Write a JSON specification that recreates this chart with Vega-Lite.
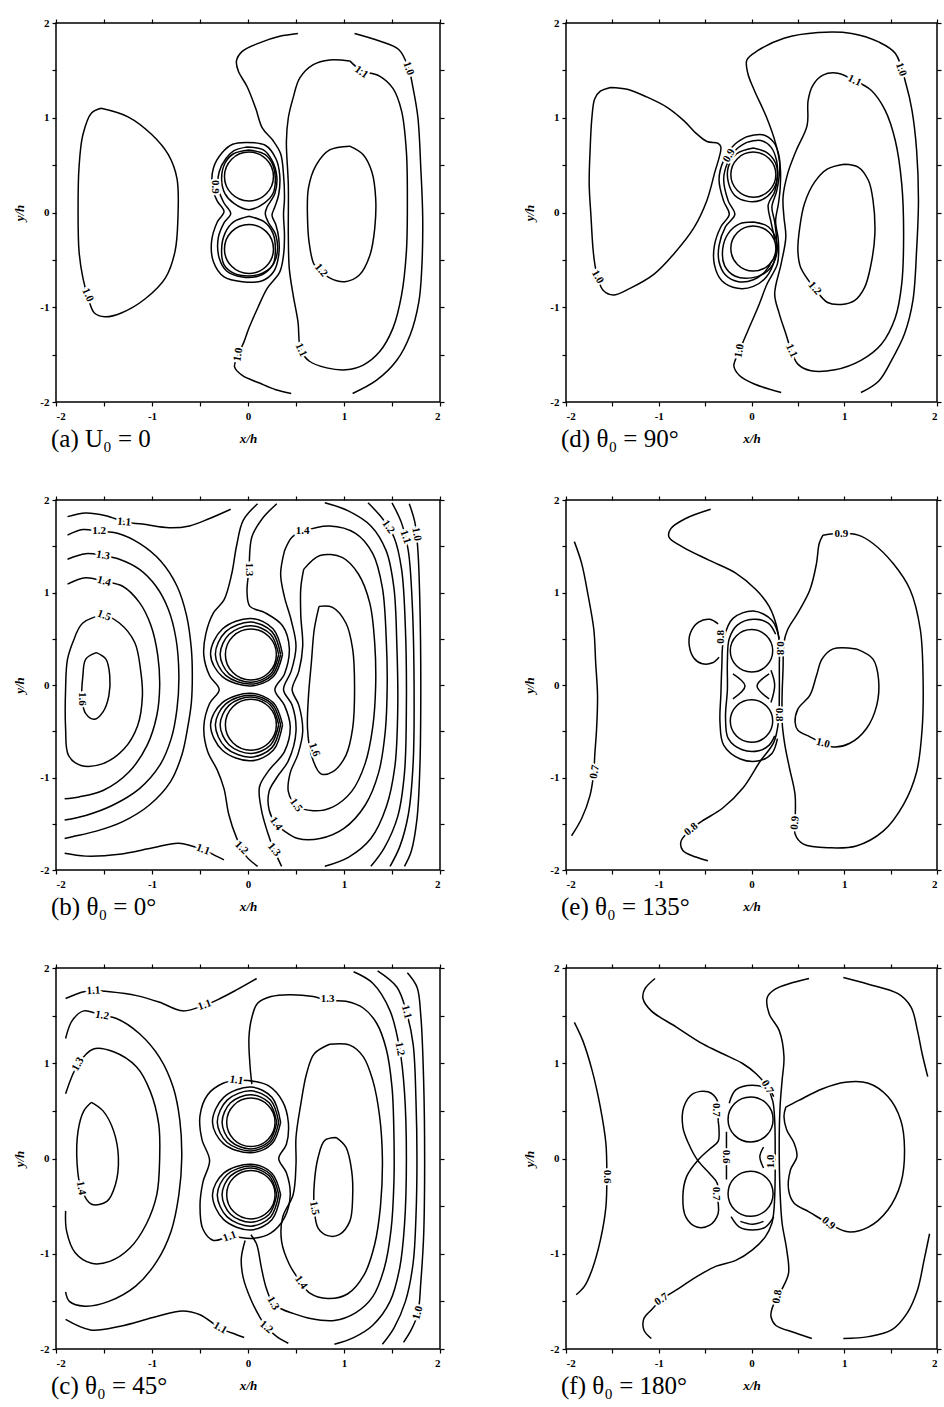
{
"$schema": "https://vega.github.io/schema/vega-lite/v6.json",
"background": "white",
"padding": {"left": 13, "top": 16, "right": 0, "bottom": 0},
"columns": 2,
"spacing": {"row": 98, "column": 126},
"bounds": "flush",
"align": "each",
"config": {
  "view": {"stroke": "black", "strokeWidth": 1.5},
  "axis": {"domain": false, "grid": false, "tickColor": "black", "tickSize": 4, "tickWidth": 1.2,
           "labelFont": "Liberation Serif", "labelFontSize": 11, "labelFontWeight": "bold", "labelColor": "black", "labelPadding": 4,
           "titleFont": "Liberation Serif", "titleFontSize": 13, "titleFontStyle": "italic", "titleFontWeight": "bold", "titleColor": "black"},
  "axisX": {"titlePadding": 11},
  "axisY": {"titlePadding": 13, "labelAngle": 0, "labelPadding": 3},
  "title": {"orient": "bottom", "anchor": "start", "frame": "group", "font": "Liberation Serif", "fontSize": 25, "fontWeight": "normal", "color": "black", "offset": -18, "dx": -5}
},
"datasets": {
"cyl": [
 {"p":"a","x":0.01,"y":0.38},{"p":"a","x":0.01,"y":-0.385},
 {"p":"b","x":0.03,"y":0.33},{"p":"b","x":0.03,"y":-0.43},
 {"p":"c","x":0.03,"y":0.38},{"p":"c","x":0.03,"y":-0.38},
 {"p":"d","x":0.02,"y":0.40},{"p":"d","x":0.02,"y":-0.38},
 {"p":"e","x":0.0,"y":0.37},{"p":"e","x":0.0,"y":-0.39},
 {"p":"f","x":-0.01,"y":0.41},{"p":"f","x":-0.01,"y":-0.37}
],
"a": [
 {"g":"a1","x":-1.53,"y":1.10},{"g":"a1","x":-1.63,"y":1.05},{"g":"a1","x":-1.72,"y":0.82},{"g":"a1","x":-1.76,"y":0.48},{"g":"a1","x":-1.77,"y":0.01},{"g":"a1","x":-1.76,"y":-0.41},{"g":"a1","x":-1.72,"y":-0.69},{"g":"a1","x":-1.66,"y":-0.92},{"g":"a1","x":-1.60,"y":-1.06},{"g":"a1","x":-1.49,"y":-1.10},{"g":"a1","x":-1.32,"y":-1.06},{"g":"a1","x":-1.07,"y":-0.91},{"g":"a1","x":-0.86,"y":-0.69},{"g":"a1","x":-0.76,"y":-0.41},{"g":"a1","x":-0.73,"y":-0.06},{"g":"a1","x":-0.74,"y":0.36},{"g":"a1","x":-0.83,"y":0.61},{"g":"a1","x":-1.00,"y":0.82},{"g":"a1","x":-1.25,"y":1.01},{"g":"a1","x":-1.53,"y":1.10},
 {"g":"a2","x":0.52,"y":1.89},{"g":"a2","x":0.33,"y":1.86},{"g":"a2","x":0.12,"y":1.79},{"g":"a2","x":-0.06,"y":1.70},{"g":"a2","x":-0.12,"y":1.60},{"g":"a2","x":-0.10,"y":1.49},{"g":"a2","x":-0.01,"y":1.33},{"g":"a2","x":0.08,"y":1.10},{"g":"a2","x":0.15,"y":0.89},{"g":"a2","x":0.26,"y":0.76},{"g":"a2","x":0.34,"y":0.62},{"g":"a2","x":0.37,"y":0.40},{"g":"a2","x":0.38,"y":0.15},{"g":"a2","x":0.37,"y":-0.02},{"g":"a2","x":0.38,"y":-0.24},{"g":"a2","x":0.37,"y":-0.45},{"g":"a2","x":0.33,"y":-0.63},{"g":"a2","x":0.20,"y":-0.80},{"g":"a2","x":0.10,"y":-1.01},{"g":"a2","x":0.01,"y":-1.22},{"g":"a2","x":-0.04,"y":-1.36},{"g":"a2","x":-0.10,"y":-1.50},{"g":"a2","x":-0.14,"y":-1.63},{"g":"a2","x":-0.06,"y":-1.72},{"g":"a2","x":0.12,"y":-1.80},{"g":"a2","x":0.29,"y":-1.87},{"g":"a2","x":0.45,"y":-1.91},
 {"g":"a3","x":1.11,"y":1.89},{"g":"a3","x":1.37,"y":1.81},{"g":"a3","x":1.57,"y":1.72},{"g":"a3","x":1.67,"y":1.53},{"g":"a3","x":1.72,"y":1.31},{"g":"a3","x":1.77,"y":1.00},{"g":"a3","x":1.80,"y":0.47},{"g":"a3","x":1.82,"y":-0.06},{"g":"a3","x":1.81,"y":-0.59},{"g":"a3","x":1.78,"y":-0.94},{"g":"a3","x":1.69,"y":-1.29},{"g":"a3","x":1.55,"y":-1.56},{"g":"a3","x":1.34,"y":-1.77},{"g":"a3","x":1.09,"y":-1.91},
 {"g":"a4","x":1.06,"y":1.60},{"g":"a4","x":0.85,"y":1.61},{"g":"a4","x":0.68,"y":1.56},{"g":"a4","x":0.54,"y":1.42},{"g":"a4","x":0.47,"y":1.21},{"g":"a4","x":0.42,"y":1.00},{"g":"a4","x":0.40,"y":0.75},{"g":"a4","x":0.42,"y":0.29},{"g":"a4","x":0.42,"y":-0.24},{"g":"a4","x":0.43,"y":-0.59},{"g":"a4","x":0.47,"y":-0.87},{"g":"a4","x":0.52,"y":-1.15},{"g":"a4","x":0.55,"y":-1.45},{"g":"a4","x":0.64,"y":-1.57},{"g":"a4","x":0.82,"y":-1.64},{"g":"a4","x":1.02,"y":-1.66},{"g":"a4","x":1.20,"y":-1.61},{"g":"a4","x":1.37,"y":-1.47},{"g":"a4","x":1.51,"y":-1.22},{"g":"a4","x":1.60,"y":-0.87},{"g":"a4","x":1.65,"y":-0.41},{"g":"a4","x":1.66,"y":0.12},{"g":"a4","x":1.65,"y":0.64},{"g":"a4","x":1.60,"y":1.07},{"g":"a4","x":1.51,"y":1.31},{"g":"a4","x":1.37,"y":1.44},{"g":"a4","x":1.18,"y":1.50},{"g":"a4","x":1.06,"y":1.60},
 {"g":"a5","x":1.06,"y":0.70},{"g":"a5","x":0.85,"y":0.66},{"g":"a5","x":0.71,"y":0.50},{"g":"a5","x":0.63,"y":0.26},{"g":"a5","x":0.62,"y":-0.06},{"g":"a5","x":0.64,"y":-0.34},{"g":"a5","x":0.69,"y":-0.55},{"g":"a5","x":0.76,"y":-0.61},{"g":"a5","x":0.85,"y":-0.69},{"g":"a5","x":1.01,"y":-0.73},{"g":"a5","x":1.16,"y":-0.66},{"g":"a5","x":1.27,"y":-0.45},{"g":"a5","x":1.32,"y":-0.17},{"g":"a5","x":1.33,"y":0.15},{"g":"a5","x":1.29,"y":0.43},{"g":"a5","x":1.20,"y":0.61},{"g":"a5","x":1.06,"y":0.70},
 {"g":"ao","x":-0.02,"y":0.74},{"g":"ao","x":0.18,"y":0.71},{"g":"ao","x":0.29,"y":0.57},{"g":"ao","x":0.33,"y":0.40},{"g":"ao","x":0.32,"y":0.19},{"g":"ao","x":0.28,"y":0.06},{"g":"ao","x":0.25,"y":-0.03},{"g":"ao","x":0.29,"y":-0.13},{"g":"ao","x":0.32,"y":-0.27},{"g":"ao","x":0.32,"y":-0.45},{"g":"ao","x":0.27,"y":-0.62},{"g":"ao","x":0.15,"y":-0.72},{"g":"ao","x":-0.06,"y":-0.73},{"g":"ao","x":-0.25,"y":-0.68},{"g":"ao","x":-0.36,"y":-0.52},{"g":"ao","x":-0.38,"y":-0.31},{"g":"ao","x":-0.32,"y":-0.10},{"g":"ao","x":-0.25,"y":0.01},{"g":"ao","x":-0.32,"y":0.12},{"g":"ao","x":-0.37,"y":0.26},{"g":"ao","x":-0.36,"y":0.47},{"g":"ao","x":-0.27,"y":0.63},{"g":"ao","x":-0.16,"y":0.72},{"g":"ao","x":-0.02,"y":0.74},
 {"g":"am","x":-0.02,"y":0.69},{"g":"am","x":0.16,"y":0.66},{"g":"am","x":0.25,"y":0.55},{"g":"am","x":0.30,"y":0.38},{"g":"am","x":0.28,"y":0.20},{"g":"am","x":0.20,"y":0.06},{"g":"am","x":0.18,"y":-0.01},{"g":"am","x":0.21,"y":-0.10},{"g":"am","x":0.29,"y":-0.24},{"g":"am","x":0.30,"y":-0.45},{"g":"am","x":0.23,"y":-0.59},{"g":"am","x":0.11,"y":-0.67},{"g":"am","x":-0.06,"y":-0.68},{"g":"am","x":-0.22,"y":-0.62},{"g":"am","x":-0.30,"y":-0.48},{"g":"am","x":-0.31,"y":-0.27},{"g":"am","x":-0.25,"y":-0.11},{"g":"am","x":-0.18,"y":-0.01},{"g":"am","x":-0.25,"y":0.10},{"g":"am","x":-0.31,"y":0.26},{"g":"am","x":-0.30,"y":0.43},{"g":"am","x":-0.23,"y":0.57},{"g":"am","x":-0.15,"y":0.65},{"g":"am","x":-0.02,"y":0.69},
 {"g":"ai1","x":0.01,"y":0.66},{"g":"ai1","x":0.18,"y":0.61},{"g":"ai1","x":0.26,"y":0.50},{"g":"ai1","x":0.285,"y":0.36},{"g":"ai1","x":0.26,"y":0.20},{"g":"ai1","x":0.17,"y":0.10},{"g":"ai1","x":0.01,"y":0.03},{"g":"ai1","x":-0.15,"y":0.10},{"g":"ai1","x":-0.24,"y":0.20},{"g":"ai1","x":-0.275,"y":0.36},{"g":"ai1","x":-0.24,"y":0.52},{"g":"ai1","x":-0.15,"y":0.62},{"g":"ai1","x":0.01,"y":0.66},
 {"g":"ai2","x":0.01,"y":-0.04},{"g":"ai2","x":0.17,"y":-0.10},{"g":"ai2","x":0.26,"y":-0.22},{"g":"ai2","x":0.285,"y":-0.39},{"g":"ai2","x":0.26,"y":-0.55},{"g":"ai2","x":0.15,"y":-0.64},{"g":"ai2","x":0.01,"y":-0.67},{"g":"ai2","x":-0.15,"y":-0.64},{"g":"ai2","x":-0.25,"y":-0.55},{"g":"ai2","x":-0.275,"y":-0.39},{"g":"ai2","x":-0.24,"y":-0.22},{"g":"ai2","x":-0.15,"y":-0.10},{"g":"ai2","x":0.01,"y":-0.04}
],
"la": [
 {"x":-1.67,"y":-0.87,"t":"1.0","a":65},{"x":-0.10,"y":-1.50,"t":"1.0","a":-80},{"x":1.18,"y":1.48,"t":"1.1","a":35},{"x":1.67,"y":1.52,"t":"1.0","a":70},{"x":0.55,"y":-1.45,"t":"1.1","a":65},{"x":0.76,"y":-0.61,"t":"1.2","a":50},{"x":-0.34,"y":0.27,"t":"0.9","a":90}
],
"d": [
 {"g":"d1","x":-1.52,"y":1.32},{"g":"d1","x":-1.63,"y":1.28},{"g":"d1","x":-1.69,"y":1.20},{"g":"d1","x":-1.72,"y":1.01},{"g":"d1","x":-1.74,"y":0.66},{"g":"d1","x":-1.75,"y":0.30},{"g":"d1","x":-1.73,"y":-0.05},{"g":"d1","x":-1.71,"y":-0.37},{"g":"d1","x":-1.69,"y":-0.54},{"g":"d1","x":-1.66,"y":-0.68},{"g":"d1","x":-1.60,"y":-0.82},{"g":"d1","x":-1.49,"y":-0.87},{"g":"d1","x":-1.31,"y":-0.80},{"g":"d1","x":-1.05,"y":-0.65},{"g":"d1","x":-0.84,"y":-0.44},{"g":"d1","x":-0.62,"y":-0.16},{"g":"d1","x":-0.48,"y":0.13},{"g":"d1","x":-0.40,"y":0.41},{"g":"d1","x":-0.33,"y":0.69},{"g":"d1","x":-0.36,"y":0.73},{"g":"d1","x":-0.48,"y":0.75},{"g":"d1","x":-0.59,"y":0.83},{"g":"d1","x":-0.73,"y":0.97},{"g":"d1","x":-0.91,"y":1.11},{"g":"d1","x":-1.13,"y":1.22},{"g":"d1","x":-1.34,"y":1.30},{"g":"d1","x":-1.52,"y":1.32},
 {"g":"d2","x":1.18,"y":-1.90},{"g":"d2","x":1.37,"y":-1.78},{"g":"d2","x":1.51,"y":-1.56},{"g":"d2","x":1.65,"y":-1.28},{"g":"d2","x":1.74,"y":-0.93},{"g":"d2","x":1.78,"y":-0.40},{"g":"d2","x":1.80,"y":0.13},{"g":"d2","x":1.78,"y":0.66},{"g":"d2","x":1.73,"y":1.08},{"g":"d2","x":1.67,"y":1.34},{"g":"d2","x":1.55,"y":1.68},{"g":"d2","x":1.37,"y":1.80},{"g":"d2","x":1.08,"y":1.89},{"g":"d2","x":0.72,"y":1.90},{"g":"d2","x":0.35,"y":1.84},{"g":"d2","x":0.07,"y":1.71},{"g":"d2","x":-0.05,"y":1.61},{"g":"d2","x":-0.04,"y":1.47},{"g":"d2","x":0.03,"y":1.29},{"g":"d2","x":0.16,"y":1.01},{"g":"d2","x":0.26,"y":0.73},{"g":"d2","x":0.31,"y":0.48},{"g":"d2","x":0.31,"y":0.27},{"g":"d2","x":0.29,"y":0.09},{"g":"d2","x":0.26,"y":-0.09},{"g":"d2","x":0.29,"y":-0.30},{"g":"d2","x":0.28,"y":-0.54},{"g":"d2","x":0.17,"y":-0.75},{"g":"d2","x":0.07,"y":-1.00},{"g":"d2","x":-0.04,"y":-1.25},{"g":"d2","x":-0.13,"y":-1.46},{"g":"d2","x":-0.19,"y":-1.62},{"g":"d2","x":-0.13,"y":-1.72},{"g":"d2","x":0.03,"y":-1.81},{"g":"d2","x":0.32,"y":-1.90},
 {"g":"d3","x":1.11,"y":1.39},{"g":"d3","x":1.29,"y":1.29},{"g":"d3","x":1.44,"y":1.08},{"g":"d3","x":1.55,"y":0.76},{"g":"d3","x":1.62,"y":0.30},{"g":"d3","x":1.64,"y":-0.23},{"g":"d3","x":1.62,"y":-0.75},{"g":"d3","x":1.55,"y":-1.11},{"g":"d3","x":1.40,"y":-1.39},{"g":"d3","x":1.18,"y":-1.56},{"g":"d3","x":0.90,"y":-1.66},{"g":"d3","x":0.64,"y":-1.67},{"g":"d3","x":0.50,"y":-1.60},{"g":"d3","x":0.43,"y":-1.46},{"g":"d3","x":0.37,"y":-1.28},{"g":"d3","x":0.30,"y":-1.07},{"g":"d3","x":0.25,"y":-0.86},{"g":"d3","x":0.32,"y":-0.54},{"g":"d3","x":0.37,"y":-0.26},{"g":"d3","x":0.35,"y":-0.05},{"g":"d3","x":0.34,"y":0.16},{"g":"d3","x":0.39,"y":0.41},{"g":"d3","x":0.48,"y":0.65},{"g":"d3","x":0.60,"y":0.92},{"g":"d3","x":0.61,"y":1.18},{"g":"d3","x":0.66,"y":1.34},{"g":"d3","x":0.77,"y":1.45},{"g":"d3","x":0.93,"y":1.47},{"g":"d3","x":1.11,"y":1.39},
 {"g":"d4","x":1.00,"y":0.51},{"g":"d4","x":0.82,"y":0.46},{"g":"d4","x":0.68,"y":0.32},{"g":"d4","x":0.57,"y":0.09},{"g":"d4","x":0.52,"y":-0.16},{"g":"d4","x":0.50,"y":-0.40},{"g":"d4","x":0.53,"y":-0.58},{"g":"d4","x":0.68,"y":-0.80},{"g":"d4","x":0.82,"y":-0.95},{"g":"d4","x":0.97,"y":-0.97},{"g":"d4","x":1.11,"y":-0.93},{"g":"d4","x":1.22,"y":-0.79},{"g":"d4","x":1.29,"y":-0.54},{"g":"d4","x":1.33,"y":-0.23},{"g":"d4","x":1.31,"y":0.13},{"g":"d4","x":1.26,"y":0.34},{"g":"d4","x":1.15,"y":0.48},{"g":"d4","x":1.00,"y":0.51},
 {"g":"do","x":-0.05,"y":0.80},{"g":"do","x":0.12,"y":0.82},{"g":"do","x":0.24,"y":0.74},{"g":"do","x":0.30,"y":0.58},{"g":"do","x":0.30,"y":0.40},{"g":"do","x":0.27,"y":0.22},{"g":"do","x":0.22,"y":0.06},{"g":"do","x":0.25,"y":-0.10},{"g":"do","x":0.27,"y":-0.30},{"g":"do","x":0.25,"y":-0.50},{"g":"do","x":0.16,"y":-0.68},{"g":"do","x":0.02,"y":-0.78},{"g":"do","x":-0.15,"y":-0.80},{"g":"do","x":-0.32,"y":-0.72},{"g":"do","x":-0.40,"y":-0.55},{"g":"do","x":-0.40,"y":-0.35},{"g":"do","x":-0.33,"y":-0.15},{"g":"do","x":-0.24,"y":-0.02},{"g":"do","x":-0.30,"y":0.12},{"g":"do","x":-0.35,"y":0.35},{"g":"do","x":-0.30,"y":0.55},{"g":"do","x":-0.18,"y":0.72},{"g":"do","x":-0.05,"y":0.80},
 {"g":"dm","x":-0.05,"y":0.74},{"g":"dm","x":0.10,"y":0.76},{"g":"dm","x":0.21,"y":0.69},{"g":"dm","x":0.27,"y":0.55},{"g":"dm","x":0.28,"y":0.38},{"g":"dm","x":0.25,"y":0.22},{"g":"dm","x":0.18,"y":0.08},{"g":"dm","x":0.21,"y":-0.10},{"g":"dm","x":0.25,"y":-0.30},{"g":"dm","x":0.23,"y":-0.48},{"g":"dm","x":0.15,"y":-0.62},{"g":"dm","x":0.02,"y":-0.71},{"g":"dm","x":-0.14,"y":-0.73},{"g":"dm","x":-0.28,"y":-0.66},{"g":"dm","x":-0.35,"y":-0.52},{"g":"dm","x":-0.35,"y":-0.35},{"g":"dm","x":-0.28,"y":-0.15},{"g":"dm","x":-0.18,"y":-0.02},{"g":"dm","x":-0.25,"y":0.12},{"g":"dm","x":-0.30,"y":0.35},{"g":"dm","x":-0.26,"y":0.52},{"g":"dm","x":-0.16,"y":0.67},{"g":"dm","x":-0.05,"y":0.74},
 {"g":"di1","x":0.02,"y":0.68},{"g":"di1","x":0.17,"y":0.63},{"g":"di1","x":0.26,"y":0.52},{"g":"di1","x":0.28,"y":0.38},{"g":"di1","x":0.22,"y":0.22},{"g":"di1","x":0.10,"y":0.13},{"g":"di1","x":-0.05,"y":0.12},{"g":"di1","x":-0.18,"y":0.18},{"g":"di1","x":-0.25,"y":0.32},{"g":"di1","x":-0.25,"y":0.48},{"g":"di1","x":-0.16,"y":0.62},{"g":"di1","x":0.02,"y":0.68},
 {"g":"di2","x":0.02,"y":-0.10},{"g":"di2","x":0.18,"y":-0.15},{"g":"di2","x":0.27,"y":-0.30},{"g":"di2","x":0.26,"y":-0.48},{"g":"di2","x":0.17,"y":-0.62},{"g":"di2","x":0.00,"y":-0.69},{"g":"di2","x":-0.18,"y":-0.67},{"g":"di2","x":-0.29,"y":-0.56},{"g":"di2","x":-0.31,"y":-0.38},{"g":"di2","x":-0.25,"y":-0.22},{"g":"di2","x":-0.13,"y":-0.12},{"g":"di2","x":0.02,"y":-0.10}
],
"ld": [
 {"x":-1.66,"y":-0.68,"t":"1.0","a":60},{"x":-0.13,"y":-1.46,"t":"1.0","a":-80},{"x":1.61,"y":1.51,"t":"1.0","a":70},{"x":1.11,"y":1.39,"t":"1.1","a":25},{"x":0.43,"y":-1.46,"t":"1.1","a":65},{"x":0.68,"y":-0.80,"t":"1.2","a":50},{"x":-0.24,"y":0.60,"t":"0.9","a":-60}
],
"b": [
 {"g":"bt","x":-1.88,"y":1.82},{"g":"bt","x":-1.69,"y":1.86},{"g":"bt","x":-1.48,"y":1.83},{"g":"bt","x":-1.27,"y":1.76},{"g":"bt","x":-1.10,"y":1.74},{"g":"bt","x":-0.82,"y":1.70},{"g":"bt","x":-0.61,"y":1.72},{"g":"bt","x":-0.40,"y":1.80},{"g":"bt","x":-0.18,"y":1.90},
 {"g":"bb","x":-1.91,"y":-1.82},{"g":"bb","x":-1.69,"y":-1.85},{"g":"bb","x":-1.34,"y":-1.83},{"g":"bb","x":-0.99,"y":-1.76},{"g":"bb","x":-0.72,"y":-1.71},{"g":"bb","x":-0.47,"y":-1.78},{"g":"bb","x":-0.33,"y":-1.85},{"g":"bb","x":-0.25,"y":-1.89},
 {"g":"b12","x":-1.88,"y":1.62},{"g":"b12","x":-1.72,"y":1.68},{"g":"b12","x":-1.55,"y":1.66},{"g":"b12","x":-1.36,"y":1.64},{"g":"b12","x":-1.13,"y":1.53},{"g":"b12","x":-0.91,"y":1.34},{"g":"b12","x":-0.74,"y":1.07},{"g":"b12","x":-0.64,"y":0.75},{"g":"b12","x":-0.59,"y":0.39},{"g":"b12","x":-0.58,"y":0.10},{"g":"b12","x":-0.59,"y":-0.19},{"g":"b12","x":-0.63,"y":-0.47},{"g":"b12","x":-0.69,"y":-0.76},{"g":"b12","x":-0.81,"y":-1.05},{"g":"b12","x":-1.03,"y":-1.30},{"g":"b12","x":-1.31,"y":-1.48},{"g":"b12","x":-1.58,"y":-1.58},{"g":"b12","x":-1.83,"y":-1.64},{"g":"b12","x":-1.91,"y":-1.66},
 {"g":"b13","x":-1.88,"y":1.36},{"g":"b13","x":-1.69,"y":1.42},{"g":"b13","x":-1.51,"y":1.40},{"g":"b13","x":-1.34,"y":1.36},{"g":"b13","x":-1.13,"y":1.25},{"g":"b13","x":-0.96,"y":1.07},{"g":"b13","x":-0.83,"y":0.82},{"g":"b13","x":-0.75,"y":0.50},{"g":"b13","x":-0.72,"y":0.10},{"g":"b13","x":-0.74,"y":-0.26},{"g":"b13","x":-0.80,"y":-0.58},{"g":"b13","x":-0.92,"y":-0.87},{"g":"b13","x":-1.13,"y":-1.12},{"g":"b13","x":-1.41,"y":-1.30},{"g":"b13","x":-1.69,"y":-1.41},{"g":"b13","x":-1.91,"y":-1.46},
 {"g":"b14","x":-1.88,"y":1.09},{"g":"b14","x":-1.69,"y":1.16},{"g":"b14","x":-1.50,"y":1.12},{"g":"b14","x":-1.31,"y":1.07},{"g":"b14","x":-1.13,"y":0.89},{"g":"b14","x":-1.01,"y":0.64},{"g":"b14","x":-0.94,"y":0.32},{"g":"b14","x":-0.92,"y":-0.01},{"g":"b14","x":-0.95,"y":-0.33},{"g":"b14","x":-1.05,"y":-0.65},{"g":"b14","x":-1.24,"y":-0.94},{"g":"b14","x":-1.51,"y":-1.14},{"g":"b14","x":-1.76,"y":-1.21},{"g":"b14","x":-1.91,"y":-1.23},
 {"g":"b15","x":-1.81,"y":0.50},{"g":"b15","x":-1.72,"y":0.67},{"g":"b15","x":-1.50,"y":0.75},{"g":"b15","x":-1.34,"y":0.67},{"g":"b15","x":-1.18,"y":0.46},{"g":"b15","x":-1.12,"y":0.17},{"g":"b15","x":-1.10,"y":-0.12},{"g":"b15","x":-1.15,"y":-0.44},{"g":"b15","x":-1.29,"y":-0.69},{"g":"b15","x":-1.51,"y":-0.85},{"g":"b15","x":-1.74,"y":-0.87},{"g":"b15","x":-1.87,"y":-0.76},{"g":"b15","x":-1.90,"y":-0.47},{"g":"b15","x":-1.90,"y":-0.04},{"g":"b15","x":-1.88,"y":0.28},{"g":"b15","x":-1.81,"y":0.50},
 {"g":"b16","x":-1.58,"y":0.35},{"g":"b16","x":-1.48,"y":0.28},{"g":"b16","x":-1.44,"y":0.10},{"g":"b16","x":-1.45,"y":-0.12},{"g":"b16","x":-1.51,"y":-0.29},{"g":"b16","x":-1.60,"y":-0.37},{"g":"b16","x":-1.69,"y":-0.31},{"g":"b16","x":-1.73,"y":-0.15},{"g":"b16","x":-1.72,"y":0.10},{"g":"b16","x":-1.69,"y":0.28},{"g":"b16","x":-1.58,"y":0.35},
 {"g":"bv1","x":0.10,"y":1.96},{"g":"bv1","x":-0.05,"y":1.78},{"g":"bv1","x":-0.12,"y":1.50},{"g":"bv1","x":-0.17,"y":1.20},{"g":"bv1","x":-0.25,"y":0.92},{"g":"bv1","x":-0.36,"y":0.78},{"g":"bv1","x":-0.44,"y":0.55},{"g":"bv1","x":-0.46,"y":0.32},{"g":"bv1","x":-0.40,"y":0.10},{"g":"bv1","x":-0.30,"y":-0.05},{"g":"bv1","x":-0.40,"y":-0.20},{"g":"bv1","x":-0.46,"y":-0.45},{"g":"bv1","x":-0.42,"y":-0.72},{"g":"bv1","x":-0.32,"y":-0.92},{"g":"bv1","x":-0.25,"y":-1.12},{"g":"bv1","x":-0.20,"y":-1.40},{"g":"bv1","x":-0.12,"y":-1.65},{"g":"bv1","x":-0.02,"y":-1.85},{"g":"bv1","x":0.10,"y":-1.96},
 {"g":"bv2","x":0.30,"y":1.96},{"g":"bv2","x":0.15,"y":1.80},{"g":"bv2","x":0.04,"y":1.60},{"g":"bv2","x":0.01,"y":1.25},{"g":"bv2","x":-0.01,"y":1.00},{"g":"bv2","x":0.02,"y":0.85},{"g":"bv2","x":0.18,"y":0.78},{"g":"bv2","x":0.36,"y":0.64},{"g":"bv2","x":0.43,"y":0.40},{"g":"bv2","x":0.38,"y":0.12},{"g":"bv2","x":0.28,"y":-0.05},{"g":"bv2","x":0.38,"y":-0.22},{"g":"bv2","x":0.44,"y":-0.45},{"g":"bv2","x":0.38,"y":-0.72},{"g":"bv2","x":0.22,"y":-0.92},{"g":"bv2","x":0.12,"y":-1.10},{"g":"bv2","x":0.14,"y":-1.35},{"g":"bv2","x":0.20,"y":-1.58},{"g":"bv2","x":0.27,"y":-1.78},{"g":"bv2","x":0.35,"y":-1.96},
 {"g":"br14","x":0.38,"y":1.45},{"g":"br14","x":0.46,"y":1.60},{"g":"br14","x":0.57,"y":1.66},{"g":"br14","x":0.85,"y":1.72},{"g":"br14","x":1.12,"y":1.64},{"g":"br14","x":1.30,"y":1.42},{"g":"br14","x":1.40,"y":1.05},{"g":"br14","x":1.44,"y":0.50},{"g":"br14","x":1.45,"y":0.00},{"g":"br14","x":1.43,"y":-0.50},{"g":"br14","x":1.36,"y":-0.95},{"g":"br14","x":1.22,"y":-1.30},{"g":"br14","x":1.00,"y":-1.55},{"g":"br14","x":0.75,"y":-1.66},{"g":"br14","x":0.52,"y":-1.66},{"g":"br14","x":0.38,"y":-1.58},{"g":"br14","x":0.29,"y":-1.50},{"g":"br14","x":0.22,"y":-1.35},{"g":"br14","x":0.22,"y":-1.15},{"g":"br14","x":0.30,"y":-1.00},{"g":"br14","x":0.42,"y":-0.82},{"g":"br14","x":0.50,"y":-0.50},{"g":"br14","x":0.46,"y":-0.22},{"g":"br14","x":0.37,"y":-0.05},{"g":"br14","x":0.45,"y":0.15},{"g":"br14","x":0.50,"y":0.42},{"g":"br14","x":0.45,"y":0.70},{"g":"br14","x":0.38,"y":0.95},{"g":"br14","x":0.34,"y":1.20},{"g":"br14","x":0.38,"y":1.45},
 {"g":"br15","x":0.58,"y":1.25},{"g":"br15","x":0.75,"y":1.40},{"g":"br15","x":0.98,"y":1.38},{"g":"br15","x":1.15,"y":1.20},{"g":"br15","x":1.27,"y":0.88},{"g":"br15","x":1.32,"y":0.45},{"g":"br15","x":1.33,"y":0.00},{"g":"br15","x":1.30,"y":-0.45},{"g":"br15","x":1.22,"y":-0.85},{"g":"br15","x":1.08,"y":-1.15},{"g":"br15","x":0.88,"y":-1.32},{"g":"br15","x":0.68,"y":-1.36},{"g":"br15","x":0.50,"y":-1.30},{"g":"br15","x":0.42,"y":-1.15},{"g":"br15","x":0.44,"y":-0.95},{"g":"br15","x":0.52,"y":-0.75},{"g":"br15","x":0.57,"y":-0.50},{"g":"br15","x":0.53,"y":-0.22},{"g":"br15","x":0.46,"y":-0.05},{"g":"br15","x":0.53,"y":0.15},{"g":"br15","x":0.57,"y":0.42},{"g":"br15","x":0.55,"y":0.75},{"g":"br15","x":0.55,"y":1.05},{"g":"br15","x":0.58,"y":1.25},
 {"g":"br16","x":0.74,"y":0.85},{"g":"br16","x":0.88,"y":0.84},{"g":"br16","x":1.02,"y":0.67},{"g":"br16","x":1.09,"y":0.39},{"g":"br16","x":1.11,"y":-0.04},{"g":"br16","x":1.09,"y":-0.47},{"g":"br16","x":1.02,"y":-0.76},{"g":"br16","x":0.88,"y":-0.94},{"g":"br16","x":0.76,"y":-0.96},{"g":"br16","x":0.66,"y":-0.76},{"g":"br16","x":0.62,"y":-0.47},{"g":"br16","x":0.63,"y":-0.12},{"g":"br16","x":0.66,"y":0.24},{"g":"br16","x":0.69,"y":0.60},{"g":"br16","x":0.74,"y":0.85},
 {"g":"ba13","x":0.80,"y":1.97},{"g":"ba13","x":1.05,"y":1.88},{"g":"ba13","x":1.28,"y":1.72},{"g":"ba13","x":1.44,"y":1.45},{"g":"ba13","x":1.52,"y":1.05},{"g":"ba13","x":1.55,"y":0.45},{"g":"ba13","x":1.56,"y":-0.25},{"g":"ba13","x":1.53,"y":-0.88},{"g":"ba13","x":1.44,"y":-1.32},{"g":"ba13","x":1.28,"y":-1.66},{"g":"ba13","x":1.05,"y":-1.86},{"g":"ba13","x":0.80,"y":-1.96},
 {"g":"ba12","x":1.25,"y":1.97},{"g":"ba12","x":1.40,"y":1.80},{"g":"ba12","x":1.52,"y":1.60},{"g":"ba12","x":1.60,"y":1.25},{"g":"ba12","x":1.64,"y":0.60},{"g":"ba12","x":1.65,"y":-0.20},{"g":"ba12","x":1.63,"y":-0.95},{"g":"ba12","x":1.56,"y":-1.42},{"g":"ba12","x":1.42,"y":-1.76},{"g":"ba12","x":1.28,"y":-1.96},
 {"g":"ba11","x":1.50,"y":1.97},{"g":"ba11","x":1.60,"y":1.75},{"g":"ba11","x":1.67,"y":1.45},{"g":"ba11","x":1.71,"y":0.90},{"g":"ba11","x":1.73,"y":0.00},{"g":"ba11","x":1.72,"y":-0.85},{"g":"ba11","x":1.67,"y":-1.40},{"g":"ba11","x":1.58,"y":-1.75},{"g":"ba11","x":1.48,"y":-1.96},
 {"g":"ba10","x":1.68,"y":1.96},{"g":"ba10","x":1.74,"y":1.75},{"g":"ba10","x":1.77,"y":1.45},{"g":"ba10","x":1.79,"y":0.90},{"g":"ba10","x":1.80,"y":0.00},{"g":"ba10","x":1.79,"y":-0.90},{"g":"ba10","x":1.76,"y":-1.45},{"g":"ba10","x":1.70,"y":-1.80},{"g":"ba10","x":1.63,"y":-1.96},
 {"g":"bk1u","x":0.32,"y":0.33},{"g":"bk1u","x":0.235,"y":0.549},{"g":"bk1u","x":0.03,"y":0.64},{"g":"bk1u","x":-0.196,"y":0.549},{"g":"bk1u","x":-0.29,"y":0.33},{"g":"bk1u","x":-0.196,"y":0.118},{"g":"bk1u","x":0.03,"y":0.03},{"g":"bk1u","x":0.235,"y":0.118},{"g":"bk1u","x":0.32,"y":0.33},
 {"g":"bk1l","x":0.32,"y":-0.43},{"g":"bk1l","x":0.235,"y":-0.218},{"g":"bk1l","x":0.03,"y":-0.13},{"g":"bk1l","x":-0.196,"y":-0.218},{"g":"bk1l","x":-0.29,"y":-0.43},{"g":"bk1l","x":-0.196,"y":-0.649},{"g":"bk1l","x":0.03,"y":-0.74},{"g":"bk1l","x":0.235,"y":-0.649},{"g":"bk1l","x":0.32,"y":-0.43},
 {"g":"bk2u","x":0.34,"y":0.33},{"g":"bk2u","x":0.249,"y":0.577},{"g":"bk2u","x":0.03,"y":0.68},{"g":"bk2u","x":-0.232,"y":0.577},{"g":"bk2u","x":-0.34,"y":0.33},{"g":"bk2u","x":-0.232,"y":0.104},{"g":"bk2u","x":0.03,"y":0.01},{"g":"bk2u","x":0.249,"y":0.104},{"g":"bk2u","x":0.34,"y":0.33},
 {"g":"bk2l","x":0.34,"y":-0.43},{"g":"bk2l","x":0.249,"y":-0.204},{"g":"bk2l","x":0.03,"y":-0.11},{"g":"bk2l","x":-0.232,"y":-0.204},{"g":"bk2l","x":-0.34,"y":-0.43},{"g":"bk2l","x":-0.232,"y":-0.677},{"g":"bk2l","x":0.03,"y":-0.78},{"g":"bk2l","x":0.249,"y":-0.677},{"g":"bk2l","x":0.34,"y":-0.43},
 {"g":"bk3u","x":0.36,"y":0.33},{"g":"bk3u","x":0.263,"y":0.606},{"g":"bk3u","x":0.03,"y":0.72},{"g":"bk3u","x":-0.267,"y":0.606},{"g":"bk3u","x":-0.39,"y":0.33},{"g":"bk3u","x":-0.267,"y":0.09},{"g":"bk3u","x":0.03,"y":-0.01},{"g":"bk3u","x":0.263,"y":0.09},{"g":"bk3u","x":0.36,"y":0.33},
 {"g":"bk3l","x":0.36,"y":-0.43},{"g":"bk3l","x":0.263,"y":-0.19},{"g":"bk3l","x":0.03,"y":-0.09},{"g":"bk3l","x":-0.267,"y":-0.19},{"g":"bk3l","x":-0.39,"y":-0.43},{"g":"bk3l","x":-0.267,"y":-0.706},{"g":"bk3l","x":0.03,"y":-0.82},{"g":"bk3l","x":0.263,"y":-0.706},{"g":"bk3l","x":0.36,"y":-0.43}
],
"lb": [
 {"x":-1.29,"y":1.76,"t":"1.1","a":5},{"x":-1.55,"y":1.66,"t":"1.2","a":0},{"x":-1.51,"y":1.40,"t":"1.3","a":10},{"x":-1.50,"y":1.12,"t":"1.4","a":15},{"x":-1.50,"y":0.75,"t":"1.5","a":20},{"x":-1.73,"y":-0.15,"t":"1.6","a":90},{"x":-0.47,"y":-1.78,"t":"1.1","a":20},
 {"x":0.69,"y":-0.70,"t":"1.6","a":70},{"x":0.50,"y":-1.30,"t":"1.5","a":55},{"x":0.57,"y":1.66,"t":"1.4","a":0},{"x":0.29,"y":-1.50,"t":"1.4","a":55},{"x":0.01,"y":1.25,"t":"1.3","a":90},{"x":0.27,"y":-1.78,"t":"1.3","a":50},{"x":-0.07,"y":-1.76,"t":"1.2","a":45},
 {"x":1.46,"y":1.71,"t":"1.2","a":55},{"x":1.64,"y":1.60,"t":"1.1","a":70},{"x":1.755,"y":1.63,"t":"1.0","a":80}
],
"e": [
 {"g":"e1","x":-1.91,"y":1.55},{"g":"e1","x":-1.83,"y":1.31},{"g":"e1","x":-1.76,"y":0.96},{"g":"e1","x":-1.70,"y":0.60},{"g":"e1","x":-1.68,"y":0.24},{"g":"e1","x":-1.66,"y":-0.11},{"g":"e1","x":-1.67,"y":-0.47},{"g":"e1","x":-1.69,"y":-0.76},{"g":"e1","x":-1.70,"y":-0.94},{"g":"e1","x":-1.74,"y":-1.19},{"g":"e1","x":-1.83,"y":-1.44},{"g":"e1","x":-1.94,"y":-1.63},
 {"g":"e2","x":-0.44,"y":1.90},{"g":"e2","x":-0.71,"y":1.80},{"g":"e2","x":-0.87,"y":1.69},{"g":"e2","x":-0.89,"y":1.60},{"g":"e2","x":-0.74,"y":1.49},{"g":"e2","x":-0.46,"y":1.35},{"g":"e2","x":-0.17,"y":1.21},{"g":"e2","x":0.05,"y":1.03},{"g":"e2","x":0.19,"y":0.85},{"g":"e2","x":0.27,"y":0.64},{"g":"e2","x":0.30,"y":0.46},{"g":"e2","x":0.30,"y":0.20},{"g":"e2","x":0.30,"y":-0.10},{"g":"e2","x":0.29,"y":-0.40},{"g":"e2","x":0.24,"y":-0.62},{"g":"e2","x":0.09,"y":-0.83},{"g":"e2","x":-0.09,"y":-1.11},{"g":"e2","x":-0.31,"y":-1.33},{"g":"e2","x":-0.53,"y":-1.47},{"g":"e2","x":-0.65,"y":-1.56},{"g":"e2","x":-0.76,"y":-1.69},{"g":"e2","x":-0.74,"y":-1.79},{"g":"e2","x":-0.60,"y":-1.86},{"g":"e2","x":-0.47,"y":-1.90},
 {"g":"e3","x":0.77,"y":1.62},{"g":"e3","x":0.73,"y":1.53},{"g":"e3","x":0.70,"y":1.31},{"g":"e3","x":0.63,"y":1.03},{"g":"e3","x":0.50,"y":0.78},{"g":"e3","x":0.39,"y":0.60},{"g":"e3","x":0.35,"y":0.46},{"g":"e3","x":0.34,"y":0.17},{"g":"e3","x":0.33,"y":-0.11},{"g":"e3","x":0.33,"y":-0.40},{"g":"e3","x":0.36,"y":-0.65},{"g":"e3","x":0.41,"y":-0.90},{"g":"e3","x":0.47,"y":-1.19},{"g":"e3","x":0.47,"y":-1.49},{"g":"e3","x":0.47,"y":-1.61},{"g":"e3","x":0.56,"y":-1.72},{"g":"e3","x":0.85,"y":-1.76},{"g":"e3","x":1.13,"y":-1.74},{"g":"e3","x":1.42,"y":-1.58},{"g":"e3","x":1.64,"y":-1.29},{"g":"e3","x":1.78,"y":-0.94},{"g":"e3","x":1.84,"y":-0.47},{"g":"e3","x":1.85,"y":0.06},{"g":"e3","x":1.82,"y":0.60},{"g":"e3","x":1.71,"y":1.03},{"g":"e3","x":1.53,"y":1.31},{"g":"e3","x":1.31,"y":1.53},{"g":"e3","x":1.15,"y":1.62},{"g":"e3","x":0.97,"y":1.64},{"g":"e3","x":0.77,"y":1.62},
 {"g":"e4","x":1.13,"y":0.39},{"g":"e4","x":1.31,"y":0.28},{"g":"e4","x":1.37,"y":0.06},{"g":"e4","x":1.35,"y":-0.22},{"g":"e4","x":1.24,"y":-0.47},{"g":"e4","x":1.06,"y":-0.63},{"g":"e4","x":0.88,"y":-0.67},{"g":"e4","x":0.77,"y":-0.63},{"g":"e4","x":0.63,"y":-0.56},{"g":"e4","x":0.50,"y":-0.49},{"g":"e4","x":0.47,"y":-0.40},{"g":"e4","x":0.50,"y":-0.26},{"g":"e4","x":0.63,"y":-0.11},{"g":"e4","x":0.70,"y":0.10},{"g":"e4","x":0.76,"y":0.28},{"g":"e4","x":0.88,"y":0.39},{"g":"e4","x":1.13,"y":0.39},
 {"g":"e5","x":-0.36,"y":0.66},{"g":"e5","x":-0.45,"y":0.71},{"g":"e5","x":-0.57,"y":0.68},{"g":"e5","x":-0.66,"y":0.56},{"g":"e5","x":-0.67,"y":0.42},{"g":"e5","x":-0.62,"y":0.29},{"g":"e5","x":-0.53,"y":0.23},{"g":"e5","x":-0.42,"y":0.24},{"g":"e5","x":-0.35,"y":0.30},
 {"g":"ec1","x":0.30,"y":0.50},{"g":"ec1","x":0.22,"y":0.70},{"g":"ec1","x":0.02,"y":0.80},{"g":"ec1","x":-0.20,"y":0.72},{"g":"ec1","x":-0.30,"y":0.50},{"g":"ec1","x":-0.32,"y":0.20},{"g":"ec1","x":-0.33,"y":-0.10},{"g":"ec1","x":-0.34,"y":-0.40},{"g":"ec1","x":-0.30,"y":-0.65},{"g":"ec1","x":-0.12,"y":-0.80},{"g":"ec1","x":0.08,"y":-0.82},{"g":"ec1","x":0.22,"y":-0.74},{"g":"ec1","x":0.28,"y":-0.58},
 {"g":"ec2","x":0.26,"y":0.55},{"g":"ec2","x":0.18,"y":0.67},{"g":"ec2","x":0.02,"y":0.71},{"g":"ec2","x":-0.15,"y":0.65},{"g":"ec2","x":-0.24,"y":0.50},{"g":"ec2","x":-0.26,"y":0.25},{"g":"ec2","x":-0.26,"y":-0.05},{"g":"ec2","x":-0.28,"y":-0.35},{"g":"ec2","x":-0.25,"y":-0.58},{"g":"ec2","x":-0.10,"y":-0.70},{"g":"ec2","x":0.08,"y":-0.71},{"g":"ec2","x":0.19,"y":-0.65},{"g":"ec2","x":0.25,"y":-0.55},
 {"g":"ex1","x":-0.20,"y":0.12},{"g":"ex1","x":-0.07,"y":-0.01},{"g":"ex1","x":-0.20,"y":-0.15},
 {"g":"ex2","x":0.19,"y":0.12},{"g":"ex2","x":0.06,"y":-0.01},{"g":"ex2","x":0.19,"y":-0.15},
 {"g":"ev1","x":0.21,"y":0.16},{"g":"ev1","x":0.25,"y":0.00},{"g":"ev1","x":0.21,"y":-0.19}
],
"le": [
 {"x":-1.69,"y":-0.94,"t":"0.7","a":-80},{"x":-0.65,"y":-1.56,"t":"0.8","a":-40},{"x":0.97,"y":1.63,"t":"0.9","a":0},{"x":0.47,"y":-1.49,"t":"0.9","a":-85},{"x":0.77,"y":-0.63,"t":"1.0","a":15},{"x":-0.33,"y":0.52,"t":"0.8","a":-90},{"x":0.31,"y":0.40,"t":"0.8","a":90},{"x":0.30,"y":-0.32,"t":"0.8","a":90}
],
"c": [
 {"g":"ct","x":-1.90,"y":1.68},{"g":"ct","x":-1.71,"y":1.75},{"g":"ct","x":-1.61,"y":1.76},{"g":"ct","x":-1.44,"y":1.75},{"g":"ct","x":-1.16,"y":1.71},{"g":"ct","x":-0.92,"y":1.64},{"g":"ct","x":-0.68,"y":1.55},{"g":"ct","x":-0.45,"y":1.61},{"g":"ct","x":-0.29,"y":1.68},{"g":"ct","x":-0.12,"y":1.77},{"g":"ct","x":0.09,"y":1.89},
 {"g":"cb","x":-1.90,"y":-1.69},{"g":"cb","x":-1.64,"y":-1.80},{"g":"cb","x":-1.33,"y":-1.76},{"g":"cb","x":-0.99,"y":-1.67},{"g":"cb","x":-0.68,"y":-1.60},{"g":"cb","x":-0.50,"y":-1.64},{"g":"cb","x":-0.29,"y":-1.78},{"g":"cb","x":-0.12,"y":-1.85},{"g":"cb","x":-0.04,"y":-1.88},
 {"g":"c12","x":-1.90,"y":1.26},{"g":"c12","x":-1.83,"y":1.45},{"g":"c12","x":-1.71,"y":1.55},{"g":"c12","x":-1.52,"y":1.50},{"g":"c12","x":-1.37,"y":1.47},{"g":"c12","x":-1.13,"y":1.31},{"g":"c12","x":-0.92,"y":1.06},{"g":"c12","x":-0.78,"y":0.75},{"g":"c12","x":-0.71,"y":0.40},{"g":"c12","x":-0.69,"y":0.01},{"g":"c12","x":-0.72,"y":-0.38},{"g":"c12","x":-0.80,"y":-0.76},{"g":"c12","x":-0.95,"y":-1.08},{"g":"c12","x":-1.17,"y":-1.34},{"g":"c12","x":-1.45,"y":-1.50},{"g":"c12","x":-1.70,"y":-1.55},{"g":"c12","x":-1.86,"y":-1.50},{"g":"c12","x":-1.90,"y":-1.40},
 {"g":"c13","x":-1.90,"y":0.68},{"g":"c13","x":-1.77,"y":0.99},{"g":"c13","x":-1.61,"y":1.15},{"g":"c13","x":-1.40,"y":1.12},{"g":"c13","x":-1.16,"y":0.96},{"g":"c13","x":-1.02,"y":0.71},{"g":"c13","x":-0.93,"y":0.36},{"g":"c13","x":-0.92,"y":0.01},{"g":"c13","x":-0.95,"y":-0.38},{"g":"c13","x":-1.06,"y":-0.69},{"g":"c13","x":-1.23,"y":-0.94},{"g":"c13","x":-1.44,"y":-1.08},{"g":"c13","x":-1.63,"y":-1.10},{"g":"c13","x":-1.80,"y":-0.99},{"g":"c13","x":-1.89,"y":-0.76},{"g":"c13","x":-1.90,"y":-0.55},
 {"g":"c14","x":-1.63,"y":0.59},{"g":"c14","x":-1.51,"y":0.50},{"g":"c14","x":-1.40,"y":0.29},{"g":"c14","x":-1.35,"y":0.01},{"g":"c14","x":-1.38,"y":-0.27},{"g":"c14","x":-1.47,"y":-0.45},{"g":"c14","x":-1.63,"y":-0.48},{"g":"c14","x":-1.74,"y":-0.31},{"g":"c14","x":-1.78,"y":-0.06},{"g":"c14","x":-1.77,"y":0.29},{"g":"c14","x":-1.71,"y":0.50},{"g":"c14","x":-1.63,"y":0.59},
 {"g":"cr15","x":0.92,"y":0.22},{"g":"cr15","x":1.02,"y":0.12},{"g":"cr15","x":1.08,"y":-0.13},{"g":"cr15","x":1.09,"y":-0.41},{"g":"cr15","x":1.06,"y":-0.66},{"g":"cr15","x":0.95,"y":-0.80},{"g":"cr15","x":0.83,"y":-0.81},{"g":"cr15","x":0.73,"y":-0.73},{"g":"cr15","x":0.69,"y":-0.52},{"g":"cr15","x":0.69,"y":-0.27},{"g":"cr15","x":0.73,"y":0.01},{"g":"cr15","x":0.80,"y":0.19},{"g":"cr15","x":0.92,"y":0.22},
 {"g":"cr14","x":0.85,"y":1.20},{"g":"cr14","x":1.06,"y":1.19},{"g":"cr14","x":1.20,"y":1.07},{"g":"cr14","x":1.30,"y":0.82},{"g":"cr14","x":1.37,"y":0.45},{"g":"cr14","x":1.40,"y":0.00},{"g":"cr14","x":1.38,"y":-0.50},{"g":"cr14","x":1.32,"y":-0.90},{"g":"cr14","x":1.21,"y":-1.22},{"g":"cr14","x":1.04,"y":-1.42},{"g":"cr14","x":0.83,"y":-1.47},{"g":"cr14","x":0.64,"y":-1.41},{"g":"cr14","x":0.55,"y":-1.30},{"g":"cr14","x":0.43,"y":-1.11},{"g":"cr14","x":0.35,"y":-0.87},{"g":"cr14","x":0.36,"y":-0.62},{"g":"cr14","x":0.47,"y":-0.38},{"g":"cr14","x":0.50,"y":-0.06},{"g":"cr14","x":0.50,"y":0.22},{"g":"cr14","x":0.55,"y":0.57},{"g":"cr14","x":0.61,"y":0.89},{"g":"cr14","x":0.69,"y":1.10},{"g":"cr14","x":0.85,"y":1.20},
 {"g":"cr13","x":0.04,"y":0.78},{"g":"cr13","x":0.02,"y":0.99},{"g":"cr13","x":0.01,"y":1.27},{"g":"cr13","x":0.04,"y":1.48},{"g":"cr13","x":0.10,"y":1.63},{"g":"cr13","x":0.24,"y":1.70},{"g":"cr13","x":0.43,"y":1.72},{"g":"cr13","x":0.68,"y":1.70},{"g":"cr13","x":0.83,"y":1.66},{"g":"cr13","x":1.02,"y":1.65},{"g":"cr13","x":1.20,"y":1.58},{"g":"cr13","x":1.34,"y":1.42},{"g":"cr13","x":1.44,"y":1.15},{"g":"cr13","x":1.50,"y":0.75},{"g":"cr13","x":1.52,"y":0.25},{"g":"cr13","x":1.52,"y":-0.25},{"g":"cr13","x":1.49,"y":-0.75},{"g":"cr13","x":1.42,"y":-1.15},{"g":"cr13","x":1.30,"y":-1.45},{"g":"cr13","x":1.12,"y":-1.62},{"g":"cr13","x":0.90,"y":-1.70},{"g":"cr13","x":0.65,"y":-1.68},{"g":"cr13","x":0.45,"y":-1.62},{"g":"cr13","x":0.35,"y":-1.58},{"g":"cr13","x":0.26,"y":-1.52},{"g":"cr13","x":0.19,"y":-1.36},{"g":"cr13","x":0.14,"y":-1.15},{"g":"cr13","x":0.09,"y":-0.90},{"g":"cr13","x":0.03,"y":-0.80},
 {"g":"cr12","x":1.10,"y":1.96},{"g":"cr12","x":1.30,"y":1.84},{"g":"cr12","x":1.48,"y":1.55},{"g":"cr12","x":1.58,"y":1.15},{"g":"cr12","x":1.63,"y":0.70},{"g":"cr12","x":1.65,"y":0.00},{"g":"cr12","x":1.63,"y":-0.70},{"g":"cr12","x":1.58,"y":-1.15},{"g":"cr12","x":1.48,"y":-1.50},{"g":"cr12","x":1.30,"y":-1.75},{"g":"cr12","x":1.10,"y":-1.88},{"g":"cr12","x":0.90,"y":-1.95},
 {"g":"cr11","x":1.35,"y":1.97},{"g":"cr11","x":1.55,"y":1.80},{"g":"cr11","x":1.65,"y":1.54},{"g":"cr11","x":1.72,"y":1.20},{"g":"cr11","x":1.75,"y":0.60},{"g":"cr11","x":1.76,"y":0.00},{"g":"cr11","x":1.75,"y":-0.60},{"g":"cr11","x":1.72,"y":-1.10},{"g":"cr11","x":1.64,"y":-1.50},{"g":"cr11","x":1.52,"y":-1.78},{"g":"cr11","x":1.40,"y":-1.95},
 {"g":"cr10","x":1.66,"y":1.95},{"g":"cr10","x":1.76,"y":1.80},{"g":"cr10","x":1.80,"y":1.50},{"g":"cr10","x":1.83,"y":0.80},{"g":"cr10","x":1.84,"y":0.00},{"g":"cr10","x":1.83,"y":-0.80},{"g":"cr10","x":1.80,"y":-1.30},{"g":"cr10","x":1.77,"y":-1.62},{"g":"cr10","x":1.70,"y":-1.80},{"g":"cr10","x":1.62,"y":-1.93},
 {"g":"cb12","x":-0.03,"y":-0.86},{"g":"cb12","x":-0.07,"y":-1.05},{"g":"cb12","x":-0.05,"y":-1.25},{"g":"cb12","x":0.03,"y":-1.48},{"g":"cb12","x":0.12,"y":-1.66},{"g":"cb12","x":0.19,"y":-1.77},{"g":"cb12","x":0.30,"y":-1.87},{"g":"cb12","x":0.42,"y":-1.94},
 {"g":"co","x":0.00,"y":0.82},{"g":"co","x":0.22,"y":0.76},{"g":"co","x":0.36,"y":0.60},{"g":"co","x":0.42,"y":0.38},{"g":"co","x":0.40,"y":0.15},{"g":"co","x":0.32,"y":0.00},{"g":"co","x":0.40,"y":-0.15},{"g":"co","x":0.44,"y":-0.38},{"g":"co","x":0.38,"y":-0.62},{"g":"co","x":0.24,"y":-0.78},{"g":"co","x":0.05,"y":-0.84},{"g":"co","x":-0.19,"y":-0.82},{"g":"co","x":-0.36,"y":-0.86},{"g":"co","x":-0.47,"y":-0.74},{"g":"co","x":-0.50,"y":-0.50},{"g":"co","x":-0.47,"y":-0.25},{"g":"co","x":-0.40,"y":-0.02},{"g":"co","x":-0.48,"y":0.20},{"g":"co","x":-0.50,"y":0.45},{"g":"co","x":-0.42,"y":0.67},{"g":"co","x":-0.26,"y":0.79},{"g":"co","x":-0.12,"y":0.82},{"g":"co","x":0.00,"y":0.82},
 {"g":"ck1u","x":0.30,"y":0.38},{"g":"ck1u","x":0.221,"y":0.585},{"g":"ck1u","x":0.03,"y":0.67},{"g":"ck1u","x":-0.182,"y":0.585},{"g":"ck1u","x":-0.27,"y":0.38},{"g":"ck1u","x":-0.182,"y":0.182},{"g":"ck1u","x":0.03,"y":0.10},{"g":"ck1u","x":0.221,"y":0.182},{"g":"ck1u","x":0.30,"y":0.38},
 {"g":"ck1l","x":0.30,"y":-0.38},{"g":"ck1l","x":0.221,"y":-0.182},{"g":"ck1l","x":0.03,"y":-0.10},{"g":"ck1l","x":-0.182,"y":-0.182},{"g":"ck1l","x":-0.27,"y":-0.38},{"g":"ck1l","x":-0.182,"y":-0.585},{"g":"ck1l","x":0.03,"y":-0.67},{"g":"ck1l","x":0.221,"y":-0.585},{"g":"ck1l","x":0.30,"y":-0.38},
 {"g":"ck2u","x":0.32,"y":0.38},{"g":"ck2u","x":0.235,"y":0.613},{"g":"ck2u","x":0.03,"y":0.71},{"g":"ck2u","x":-0.217,"y":0.613},{"g":"ck2u","x":-0.32,"y":0.38},{"g":"ck2u","x":-0.217,"y":0.168},{"g":"ck2u","x":0.03,"y":0.08},{"g":"ck2u","x":0.235,"y":0.168},{"g":"ck2u","x":0.32,"y":0.38},
 {"g":"ck2l","x":0.32,"y":-0.38},{"g":"ck2l","x":0.235,"y":-0.168},{"g":"ck2l","x":0.03,"y":-0.08},{"g":"ck2l","x":-0.217,"y":-0.168},{"g":"ck2l","x":-0.32,"y":-0.38},{"g":"ck2l","x":-0.217,"y":-0.613},{"g":"ck2l","x":0.03,"y":-0.71},{"g":"ck2l","x":0.235,"y":-0.613},{"g":"ck2l","x":0.32,"y":-0.38},
 {"g":"ck3u","x":0.34,"y":0.38},{"g":"ck3u","x":0.249,"y":0.642},{"g":"ck3u","x":0.03,"y":0.75},{"g":"ck3u","x":-0.253,"y":0.642},{"g":"ck3u","x":-0.37,"y":0.38},{"g":"ck3u","x":-0.253,"y":0.154},{"g":"ck3u","x":0.03,"y":0.06},{"g":"ck3u","x":0.249,"y":0.154},{"g":"ck3u","x":0.34,"y":0.38},
 {"g":"ck3l","x":0.34,"y":-0.38},{"g":"ck3l","x":0.249,"y":-0.154},{"g":"ck3l","x":0.03,"y":-0.06},{"g":"ck3l","x":-0.253,"y":-0.154},{"g":"ck3l","x":-0.37,"y":-0.38},{"g":"ck3l","x":-0.253,"y":-0.642},{"g":"ck3l","x":0.03,"y":-0.75},{"g":"ck3l","x":0.249,"y":-0.642},{"g":"ck3l","x":0.34,"y":-0.38}
],
"lc": [
 {"x":-1.61,"y":1.76,"t":"1.1","a":-3},{"x":-0.45,"y":1.61,"t":"1.1","a":-20},{"x":-1.52,"y":1.50,"t":"1.2","a":10},{"x":-1.77,"y":0.99,"t":"1.3","a":-60},{"x":-1.74,"y":-0.31,"t":"1.4","a":80},{"x":-0.29,"y":-1.78,"t":"1.1","a":30},
 {"x":0.69,"y":-0.52,"t":"1.5","a":80},{"x":0.55,"y":-1.30,"t":"1.4","a":55},{"x":0.83,"y":1.67,"t":"1.3","a":0},{"x":0.26,"y":-1.52,"t":"1.3","a":60},{"x":1.58,"y":1.15,"t":"1.2","a":80},{"x":1.65,"y":1.54,"t":"1.1","a":75},{"x":1.77,"y":-1.62,"t":"1.0","a":-75},{"x":0.19,"y":-1.77,"t":"1.2","a":40},{"x":-0.12,"y":0.82,"t":"1.1","a":10},{"x":-0.19,"y":-0.82,"t":"1.1","a":-20}
],
"f": [
 {"g":"f1","x":-1.91,"y":1.43},{"g":"f1","x":-1.82,"y":1.24},{"g":"f1","x":-1.72,"y":0.93},{"g":"f1","x":-1.63,"y":0.54},{"g":"f1","x":-1.57,"y":0.16},{"g":"f1","x":-1.56,"y":-0.19},{"g":"f1","x":-1.57,"y":-0.51},{"g":"f1","x":-1.63,"y":-0.86},{"g":"f1","x":-1.72,"y":-1.17},{"g":"f1","x":-1.80,"y":-1.34},{"g":"f1","x":-1.89,"y":-1.43},
 {"g":"f2","x":-1.04,"y":1.89},{"g":"f2","x":-1.15,"y":1.78},{"g":"f2","x":-1.17,"y":1.68},{"g":"f2","x":-1.08,"y":1.55},{"g":"f2","x":-0.81,"y":1.38},{"g":"f2","x":-0.52,"y":1.20},{"g":"f2","x":-0.31,"y":1.10},{"g":"f2","x":-0.10,"y":1.00},{"g":"f2","x":0.05,"y":0.89},{"g":"f2","x":0.17,"y":0.75},{"g":"f2","x":0.23,"y":0.60},{"g":"f2","x":0.25,"y":0.40},{"g":"f2","x":0.255,"y":0.20},{"g":"f2","x":0.255,"y":0.00},{"g":"f2","x":0.255,"y":-0.20},{"g":"f2","x":0.25,"y":-0.40},{"g":"f2","x":0.24,"y":-0.56},{"g":"f2","x":0.22,"y":-0.68},{"g":"f2","x":0.15,"y":-0.82},{"g":"f2","x":0.01,"y":-0.96},{"g":"f2","x":-0.17,"y":-1.07},{"g":"f2","x":-0.38,"y":-1.13},{"g":"f2","x":-0.59,"y":-1.24},{"g":"f2","x":-0.81,"y":-1.38},{"g":"f2","x":-0.97,"y":-1.48},{"g":"f2","x":-1.08,"y":-1.59},{"g":"f2","x":-1.16,"y":-1.68},{"g":"f2","x":-1.16,"y":-1.80},{"g":"f2","x":-1.08,"y":-1.89},
 {"g":"f3","x":0.62,"y":1.89},{"g":"f3","x":0.26,"y":1.78},{"g":"f3","x":0.17,"y":1.69},{"g":"f3","x":0.19,"y":1.52},{"g":"f3","x":0.30,"y":1.34},{"g":"f3","x":0.35,"y":1.07},{"g":"f3","x":0.33,"y":0.82},{"g":"f3","x":0.31,"y":0.58},{"g":"f3","x":0.30,"y":0.30},{"g":"f3","x":0.30,"y":-0.05},{"g":"f3","x":0.31,"y":-0.40},{"g":"f3","x":0.33,"y":-0.68},{"g":"f3","x":0.38,"y":-0.96},{"g":"f3","x":0.40,"y":-1.20},{"g":"f3","x":0.34,"y":-1.35},{"g":"f3","x":0.28,"y":-1.45},{"g":"f3","x":0.22,"y":-1.58},{"g":"f3","x":0.21,"y":-1.66},{"g":"f3","x":0.26,"y":-1.75},{"g":"f3","x":0.47,"y":-1.83},{"g":"f3","x":0.65,"y":-1.89},
 {"g":"f4a","x":0.99,"y":1.90},{"g":"f4a","x":1.26,"y":1.83},{"g":"f4a","x":1.58,"y":1.73},{"g":"f4a","x":1.72,"y":1.59},{"g":"f4a","x":1.79,"y":1.34},{"g":"f4a","x":1.84,"y":1.10},{"g":"f4a","x":1.90,"y":0.86},
 {"g":"f4b","x":1.92,"y":-0.79},{"g":"f4b","x":1.86,"y":-1.07},{"g":"f4b","x":1.79,"y":-1.38},{"g":"f4b","x":1.68,"y":-1.62},{"g":"f4b","x":1.51,"y":-1.80},{"g":"f4b","x":1.26,"y":-1.87},{"g":"f4b","x":0.99,"y":-1.89},
 {"g":"f5","x":0.37,"y":0.54},{"g":"f5","x":0.51,"y":0.61},{"g":"f5","x":0.76,"y":0.73},{"g":"f5","x":1.01,"y":0.80},{"g":"f5","x":1.26,"y":0.79},{"g":"f5","x":1.47,"y":0.65},{"g":"f5","x":1.61,"y":0.40},{"g":"f5","x":1.65,"y":0.09},{"g":"f5","x":1.61,"y":-0.26},{"g":"f5","x":1.47,"y":-0.54},{"g":"f5","x":1.26,"y":-0.72},{"g":"f5","x":1.04,"y":-0.77},{"g":"f5","x":0.83,"y":-0.68},{"g":"f5","x":0.62,"y":-0.56},{"g":"f5","x":0.46,"y":-0.47},{"g":"f5","x":0.40,"y":-0.33},{"g":"f5","x":0.42,"y":-0.12},{"g":"f5","x":0.49,"y":0.02},{"g":"f5","x":0.46,"y":0.16},{"g":"f5","x":0.38,"y":0.30},{"g":"f5","x":0.35,"y":0.44},{"g":"f5","x":0.37,"y":0.54},
 {"g":"f6","x":-0.36,"y":0.40},{"g":"f6","x":-0.37,"y":0.61},{"g":"f6","x":-0.47,"y":0.70},{"g":"f6","x":-0.63,"y":0.68},{"g":"f6","x":-0.73,"y":0.54},{"g":"f6","x":-0.74,"y":0.33},{"g":"f6","x":-0.68,"y":0.16},{"g":"f6","x":-0.58,"y":-0.02},{"g":"f6","x":-0.45,"y":-0.16},{"g":"f6","x":-0.37,"y":-0.26},{"g":"f6","x":-0.36,"y":-0.45},{"g":"f6","x":-0.36,"y":-0.58},{"g":"f6","x":-0.45,"y":-0.70},{"g":"f6","x":-0.59,"y":-0.72},{"g":"f6","x":-0.71,"y":-0.61},{"g":"f6","x":-0.74,"y":-0.40},{"g":"f6","x":-0.70,"y":-0.19},{"g":"f6","x":-0.58,"y":-0.02},{"g":"f6","x":-0.45,"y":0.10},{"g":"f6","x":-0.36,"y":0.18},{"g":"f6","x":-0.35,"y":0.30},{"g":"f6","x":-0.36,"y":0.40},
 {"g":"fta","x":-0.24,"y":0.58},{"g":"fta","x":-0.17,"y":0.72},{"g":"fta","x":0.01,"y":0.77},{"g":"fta","x":0.19,"y":0.72},{"g":"fta","x":0.24,"y":0.65},
 {"g":"fba","x":-0.22,"y":-0.61},{"g":"fba","x":-0.13,"y":-0.72},{"g":"fba","x":0.01,"y":-0.75},{"g":"fba","x":0.15,"y":-0.72},{"g":"fba","x":0.24,"y":-0.61},
 {"g":"fbi","x":-0.12,"y":-0.66},{"g":"fbi","x":0.01,"y":-0.69},{"g":"fbi","x":0.13,"y":-0.66},
 {"g":"fm1","x":-0.27,"y":0.28},{"g":"fm1","x":-0.27,"y":0.02},{"g":"fm1","x":-0.27,"y":-0.22},
 {"g":"fm2","x":0.13,"y":0.12},{"g":"fm2","x":0.09,"y":0.02},{"g":"fm2","x":0.13,"y":-0.10}
],
"lf": [
 {"x":-1.56,"y":-0.19,"t":"0.6","a":90},{"x":0.17,"y":0.75,"t":"0.7","a":60},{"x":-0.97,"y":-1.48,"t":"0.7","a":-35},{"x":0.28,"y":-1.45,"t":"0.8","a":-80},{"x":0.83,"y":-0.68,"t":"0.9","a":40},{"x":-0.38,"y":0.51,"t":"0.7","a":90},{"x":-0.38,"y":-0.37,"t":"0.7","a":90},{"x":-0.27,"y":0.02,"t":"0.6","a":90},{"x":0.21,"y":-0.03,"t":"1.0","a":-90}
]
},
"concat": [
  {"width": 384, "height": 379, "title": {"text": "(a) U₀  =  0"},
   "resolve": {"axis": {"x": "independent", "y": "independent"}},
   "layer": [
    {"data": {"name": "a"}, "mark": {"type": "line", "interpolate": "catmull-rom", "color": "black", "strokeWidth": 1.5, "clip": true},
     "encoding": {"x": {"field": "x", "type": "quantitative", "scale": {"domain": [-2, 2], "nice": false, "zero": false}, "axis": {"orient": "bottom", "title": "x/h", "values": [-2,-1.5,-1,-0.5,0,0.5,1,1.5,2], "labelExpr": "datum.value % 1 == 0 ? '' + datum.value : ''"}},
                  "y": {"field": "y", "type": "quantitative", "scale": {"domain": [-2, 2], "nice": false, "zero": false}, "axis": {"orient": "left", "title": "y/h", "values": [-2,-1.5,-1,-0.5,0,0.5,1,1.5,2], "labelExpr": "datum.value % 1 == 0 ? '' + datum.value : ''"}},
                  "detail": {"field": "g"}, "order": {"value": null}}},
    {"data": {"name": "cyl"}, "transform": [{"filter": "datum.p == 'a'"}], "mark": {"type": "point", "shape": "circle", "size": 2400, "filled": true, "fill": "white", "stroke": "black", "strokeWidth": 1.5, "opacity": 1},
     "encoding": {"x": {"field": "x", "type": "quantitative", "axis": {"orient": "top", "values": [-2,-1.5,-1,-0.5,0,0.5,1,1.5,2], "labels": false, "title": null}},
                  "y": {"field": "y", "type": "quantitative", "axis": {"orient": "right", "values": [-2,-1.5,-1,-0.5,0,0.5,1,1.5,2], "labels": false, "title": null}}}},
    {"data": {"name": "la"}, "mark": {"type": "text", "font": "Liberation Serif", "fontSize": 11, "fontWeight": "bold", "fill": "white", "stroke": "white", "strokeWidth": 4},
     "encoding": {"x": {"field": "x", "type": "quantitative", "axis": null}, "y": {"field": "y", "type": "quantitative", "axis": null}, "text": {"field": "t"}, "angle": {"field": "a", "type": "quantitative", "scale": null}}},
    {"data": {"name": "la"}, "mark": {"type": "text", "font": "Liberation Serif", "fontSize": 11, "fontWeight": "bold", "fill": "black"},
     "encoding": {"x": {"field": "x", "type": "quantitative", "axis": null}, "y": {"field": "y", "type": "quantitative", "axis": null}, "text": {"field": "t"}, "angle": {"field": "a", "type": "quantitative", "scale": null}}}
   ]},
  {"width": 371, "height": 379, "title": {"text": "(d) θ₀  =  90°"},
   "resolve": {"axis": {"x": "independent", "y": "independent"}},
   "layer": [
    {"data": {"name": "d"}, "mark": {"type": "line", "interpolate": "catmull-rom", "color": "black", "strokeWidth": 1.5, "clip": true},
     "encoding": {"x": {"field": "x", "type": "quantitative", "scale": {"domain": [-2, 2], "nice": false, "zero": false}, "axis": {"orient": "bottom", "title": "x/h", "values": [-2,-1.5,-1,-0.5,0,0.5,1,1.5,2], "labelExpr": "datum.value % 1 == 0 ? '' + datum.value : ''"}},
                  "y": {"field": "y", "type": "quantitative", "scale": {"domain": [-2, 2], "nice": false, "zero": false}, "axis": {"orient": "left", "title": "y/h", "values": [-2,-1.5,-1,-0.5,0,0.5,1,1.5,2], "labelExpr": "datum.value % 1 == 0 ? '' + datum.value : ''"}},
                  "detail": {"field": "g"}, "order": {"value": null}}},
    {"data": {"name": "cyl"}, "transform": [{"filter": "datum.p == 'd'"}], "mark": {"type": "point", "shape": "circle", "size": 2030, "filled": true, "fill": "white", "stroke": "black", "strokeWidth": 1.5, "opacity": 1},
     "encoding": {"x": {"field": "x", "type": "quantitative", "axis": {"orient": "top", "values": [-2,-1.5,-1,-0.5,0,0.5,1,1.5,2], "labels": false, "title": null}},
                  "y": {"field": "y", "type": "quantitative", "axis": {"orient": "right", "values": [-2,-1.5,-1,-0.5,0,0.5,1,1.5,2], "labels": false, "title": null}}}},
    {"data": {"name": "ld"}, "mark": {"type": "text", "font": "Liberation Serif", "fontSize": 11, "fontWeight": "bold", "fill": "white", "stroke": "white", "strokeWidth": 4},
     "encoding": {"x": {"field": "x", "type": "quantitative", "axis": null}, "y": {"field": "y", "type": "quantitative", "axis": null}, "text": {"field": "t"}, "angle": {"field": "a", "type": "quantitative", "scale": null}}},
    {"data": {"name": "ld"}, "mark": {"type": "text", "font": "Liberation Serif", "fontSize": 11, "fontWeight": "bold", "fill": "black"},
     "encoding": {"x": {"field": "x", "type": "quantitative", "axis": null}, "y": {"field": "y", "type": "quantitative", "axis": null}, "text": {"field": "t"}, "angle": {"field": "a", "type": "quantitative", "scale": null}}}
   ]},
  {"width": 384, "height": 370, "title": {"text": "(b) θ₀  =  0°"},
   "resolve": {"axis": {"x": "independent", "y": "independent"}},
   "layer": [
    {"data": {"name": "b"}, "mark": {"type": "line", "interpolate": "catmull-rom", "color": "black", "strokeWidth": 1.5, "clip": true},
     "encoding": {"x": {"field": "x", "type": "quantitative", "scale": {"domain": [-2, 2], "nice": false, "zero": false}, "axis": {"orient": "bottom", "title": "x/h", "values": [-2,-1.5,-1,-0.5,0,0.5,1,1.5,2], "labelExpr": "datum.value % 1 == 0 ? '' + datum.value : ''"}},
                  "y": {"field": "y", "type": "quantitative", "scale": {"domain": [-2, 2], "nice": false, "zero": false}, "axis": {"orient": "left", "title": "y/h", "values": [-2,-1.5,-1,-0.5,0,0.5,1,1.5,2], "labelExpr": "datum.value % 1 == 0 ? '' + datum.value : ''"}},
                  "detail": {"field": "g"}, "order": {"value": null}}},
    {"data": {"name": "cyl"}, "transform": [{"filter": "datum.p == 'b'"}], "mark": {"type": "point", "shape": "circle", "size": 2600, "filled": true, "fill": "white", "stroke": "black", "strokeWidth": 1.5, "opacity": 1},
     "encoding": {"x": {"field": "x", "type": "quantitative", "axis": {"orient": "top", "values": [-2,-1.5,-1,-0.5,0,0.5,1,1.5,2], "labels": false, "title": null}},
                  "y": {"field": "y", "type": "quantitative", "axis": {"orient": "right", "values": [-2,-1.5,-1,-0.5,0,0.5,1,1.5,2], "labels": false, "title": null}}}},
    {"data": {"name": "lb"}, "mark": {"type": "text", "font": "Liberation Serif", "fontSize": 11, "fontWeight": "bold", "fill": "white", "stroke": "white", "strokeWidth": 4},
     "encoding": {"x": {"field": "x", "type": "quantitative", "axis": null}, "y": {"field": "y", "type": "quantitative", "axis": null}, "text": {"field": "t"}, "angle": {"field": "a", "type": "quantitative", "scale": null}}},
    {"data": {"name": "lb"}, "mark": {"type": "text", "font": "Liberation Serif", "fontSize": 11, "fontWeight": "bold", "fill": "black"},
     "encoding": {"x": {"field": "x", "type": "quantitative", "axis": null}, "y": {"field": "y", "type": "quantitative", "axis": null}, "text": {"field": "t"}, "angle": {"field": "a", "type": "quantitative", "scale": null}}}
   ]},
  {"width": 371, "height": 370, "title": {"text": "(e) θ₀  =  135°"},
   "resolve": {"axis": {"x": "independent", "y": "independent"}},
   "layer": [
    {"data": {"name": "e"}, "mark": {"type": "line", "interpolate": "catmull-rom", "color": "black", "strokeWidth": 1.5, "clip": true},
     "encoding": {"x": {"field": "x", "type": "quantitative", "scale": {"domain": [-2, 2], "nice": false, "zero": false}, "axis": {"orient": "bottom", "title": "x/h", "values": [-2,-1.5,-1,-0.5,0,0.5,1,1.5,2], "labelExpr": "datum.value % 1 == 0 ? '' + datum.value : ''"}},
                  "y": {"field": "y", "type": "quantitative", "scale": {"domain": [-2, 2], "nice": false, "zero": false}, "axis": {"orient": "left", "title": "y/h", "values": [-2,-1.5,-1,-0.5,0,0.5,1,1.5,2], "labelExpr": "datum.value % 1 == 0 ? '' + datum.value : ''"}},
                  "detail": {"field": "g"}, "order": {"value": null}}},
    {"data": {"name": "cyl"}, "transform": [{"filter": "datum.p == 'e'"}], "mark": {"type": "point", "shape": "circle", "size": 1800, "filled": true, "fill": "white", "stroke": "black", "strokeWidth": 1.5, "opacity": 1},
     "encoding": {"x": {"field": "x", "type": "quantitative", "axis": {"orient": "top", "values": [-2,-1.5,-1,-0.5,0,0.5,1,1.5,2], "labels": false, "title": null}},
                  "y": {"field": "y", "type": "quantitative", "axis": {"orient": "right", "values": [-2,-1.5,-1,-0.5,0,0.5,1,1.5,2], "labels": false, "title": null}}}},
    {"data": {"name": "le"}, "mark": {"type": "text", "font": "Liberation Serif", "fontSize": 11, "fontWeight": "bold", "fill": "white", "stroke": "white", "strokeWidth": 4},
     "encoding": {"x": {"field": "x", "type": "quantitative", "axis": null}, "y": {"field": "y", "type": "quantitative", "axis": null}, "text": {"field": "t"}, "angle": {"field": "a", "type": "quantitative", "scale": null}}},
    {"data": {"name": "le"}, "mark": {"type": "text", "font": "Liberation Serif", "fontSize": 11, "fontWeight": "bold", "fill": "black"},
     "encoding": {"x": {"field": "x", "type": "quantitative", "axis": null}, "y": {"field": "y", "type": "quantitative", "axis": null}, "text": {"field": "t"}, "angle": {"field": "a", "type": "quantitative", "scale": null}}}
   ]},
  {"width": 384, "height": 381, "title": {"text": "(c) θ₀  =  45°"},
   "resolve": {"axis": {"x": "independent", "y": "independent"}},
   "layer": [
    {"data": {"name": "c"}, "mark": {"type": "line", "interpolate": "catmull-rom", "color": "black", "strokeWidth": 1.5, "clip": true},
     "encoding": {"x": {"field": "x", "type": "quantitative", "scale": {"domain": [-2, 2], "nice": false, "zero": false}, "axis": {"orient": "bottom", "title": "x/h", "values": [-2,-1.5,-1,-0.5,0,0.5,1,1.5,2], "labelExpr": "datum.value % 1 == 0 ? '' + datum.value : ''"}},
                  "y": {"field": "y", "type": "quantitative", "scale": {"domain": [-2, 2], "nice": false, "zero": false}, "axis": {"orient": "left", "title": "y/h", "values": [-2,-1.5,-1,-0.5,0,0.5,1,1.5,2], "labelExpr": "datum.value % 1 == 0 ? '' + datum.value : ''"}},
                  "detail": {"field": "g"}, "order": {"value": null}}},
    {"data": {"name": "cyl"}, "transform": [{"filter": "datum.p == 'c'"}], "mark": {"type": "point", "shape": "circle", "size": 2340, "filled": true, "fill": "white", "stroke": "black", "strokeWidth": 1.5, "opacity": 1},
     "encoding": {"x": {"field": "x", "type": "quantitative", "axis": {"orient": "top", "values": [-2,-1.5,-1,-0.5,0,0.5,1,1.5,2], "labels": false, "title": null}},
                  "y": {"field": "y", "type": "quantitative", "axis": {"orient": "right", "values": [-2,-1.5,-1,-0.5,0,0.5,1,1.5,2], "labels": false, "title": null}}}},
    {"data": {"name": "lc"}, "mark": {"type": "text", "font": "Liberation Serif", "fontSize": 11, "fontWeight": "bold", "fill": "white", "stroke": "white", "strokeWidth": 4},
     "encoding": {"x": {"field": "x", "type": "quantitative", "axis": null}, "y": {"field": "y", "type": "quantitative", "axis": null}, "text": {"field": "t"}, "angle": {"field": "a", "type": "quantitative", "scale": null}}},
    {"data": {"name": "lc"}, "mark": {"type": "text", "font": "Liberation Serif", "fontSize": 11, "fontWeight": "bold", "fill": "black"},
     "encoding": {"x": {"field": "x", "type": "quantitative", "axis": null}, "y": {"field": "y", "type": "quantitative", "axis": null}, "text": {"field": "t"}, "angle": {"field": "a", "type": "quantitative", "scale": null}}}
   ]},
  {"width": 371, "height": 381, "title": {"text": "(f) θ₀  =  180°"},
   "resolve": {"axis": {"x": "independent", "y": "independent"}},
   "layer": [
    {"data": {"name": "f"}, "mark": {"type": "line", "interpolate": "catmull-rom", "color": "black", "strokeWidth": 1.5, "clip": true},
     "encoding": {"x": {"field": "x", "type": "quantitative", "scale": {"domain": [-2, 2], "nice": false, "zero": false}, "axis": {"orient": "bottom", "title": "x/h", "values": [-2,-1.5,-1,-0.5,0,0.5,1,1.5,2], "labelExpr": "datum.value % 1 == 0 ? '' + datum.value : ''"}},
                  "y": {"field": "y", "type": "quantitative", "scale": {"domain": [-2, 2], "nice": false, "zero": false}, "axis": {"orient": "left", "title": "y/h", "values": [-2,-1.5,-1,-0.5,0,0.5,1,1.5,2], "labelExpr": "datum.value % 1 == 0 ? '' + datum.value : ''"}},
                  "detail": {"field": "g"}, "order": {"value": null}}},
    {"data": {"name": "cyl"}, "transform": [{"filter": "datum.p == 'f'"}], "mark": {"type": "point", "shape": "circle", "size": 2030, "filled": true, "fill": "white", "stroke": "black", "strokeWidth": 1.5, "opacity": 1},
     "encoding": {"x": {"field": "x", "type": "quantitative", "axis": {"orient": "top", "values": [-2,-1.5,-1,-0.5,0,0.5,1,1.5,2], "labels": false, "title": null}},
                  "y": {"field": "y", "type": "quantitative", "axis": {"orient": "right", "values": [-2,-1.5,-1,-0.5,0,0.5,1,1.5,2], "labels": false, "title": null}}}},
    {"data": {"name": "lf"}, "mark": {"type": "text", "font": "Liberation Serif", "fontSize": 11, "fontWeight": "bold", "fill": "white", "stroke": "white", "strokeWidth": 4},
     "encoding": {"x": {"field": "x", "type": "quantitative", "axis": null}, "y": {"field": "y", "type": "quantitative", "axis": null}, "text": {"field": "t"}, "angle": {"field": "a", "type": "quantitative", "scale": null}}},
    {"data": {"name": "lf"}, "mark": {"type": "text", "font": "Liberation Serif", "fontSize": 11, "fontWeight": "bold", "fill": "black"},
     "encoding": {"x": {"field": "x", "type": "quantitative", "axis": null}, "y": {"field": "y", "type": "quantitative", "axis": null}, "text": {"field": "t"}, "angle": {"field": "a", "type": "quantitative", "scale": null}}}
   ]}
]
}
